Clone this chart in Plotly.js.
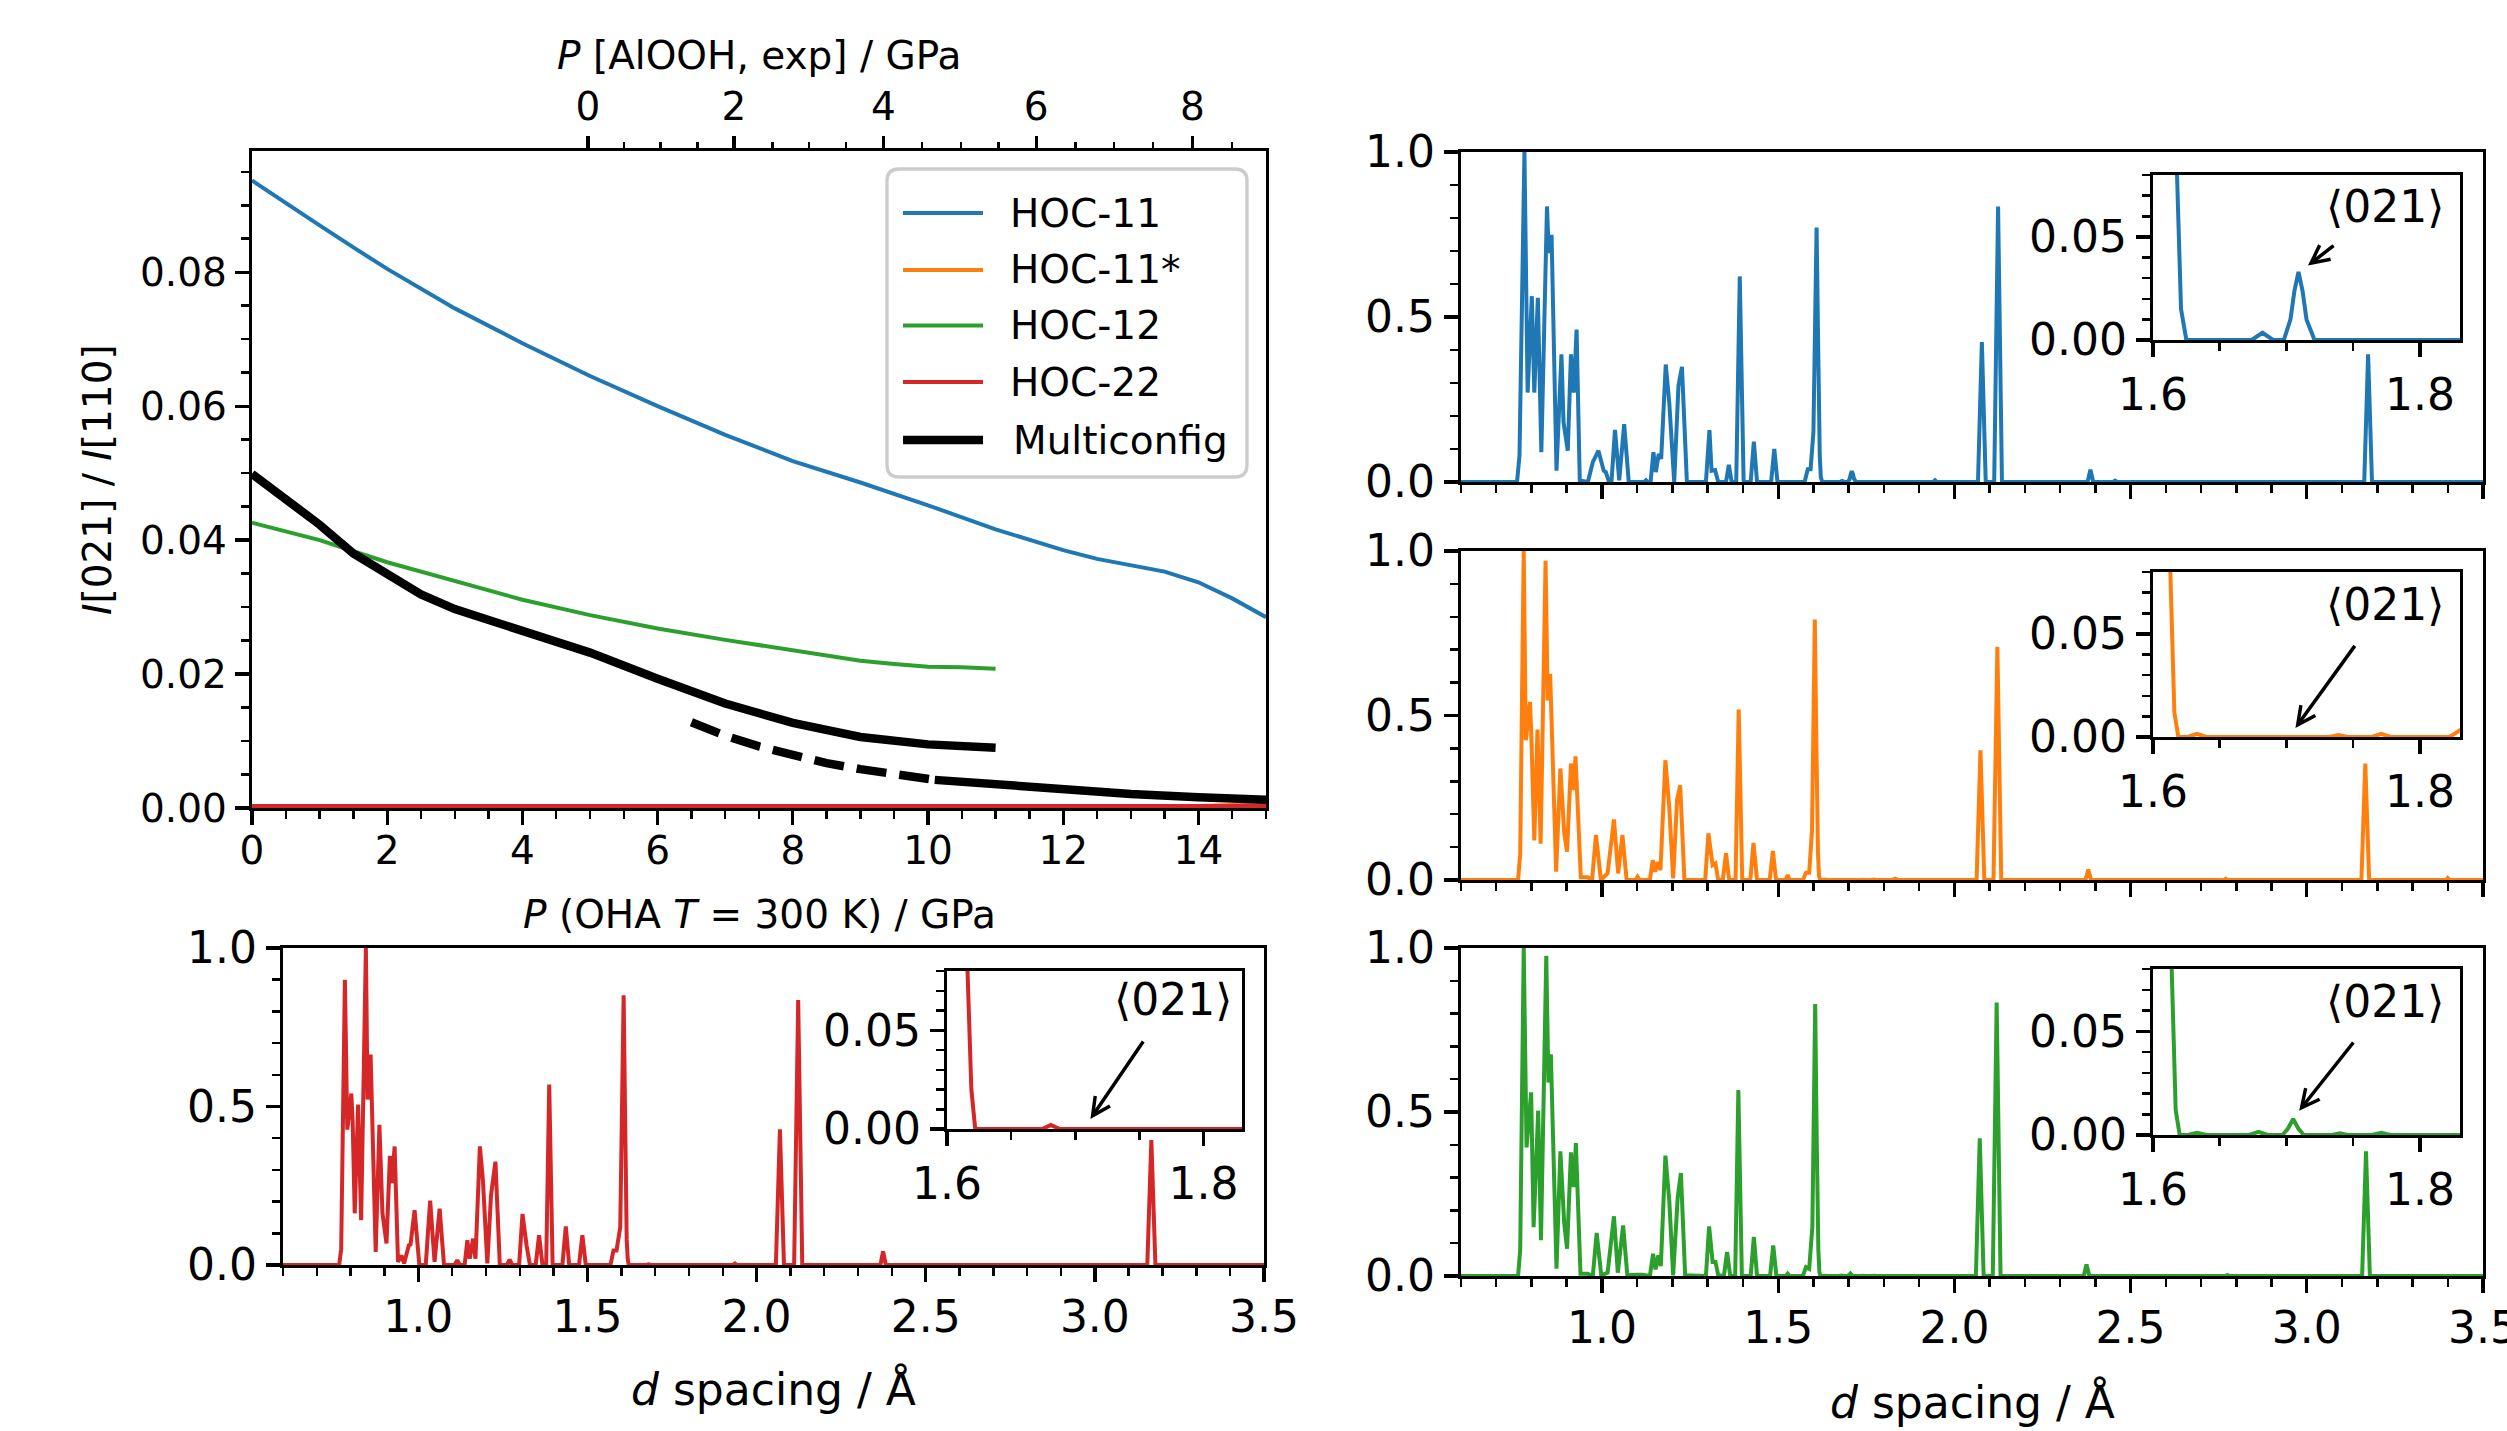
<!DOCTYPE html>
<html>
<head>
<meta charset="utf-8">
<script src="https://cdn.plot.ly/plotly-3.0.1.min.js"></script>
<style>html,body{margin:0;padding:0;background:#fff;}#chart{width:2507px;height:1431px;}</style>
</head>
<body>
<div id="chart"></div>
<script>
// ---------------- DATA ----------------
const seriesNames  = ['HOC-11', 'HOC-11*', 'HOC-12', 'HOC-22', 'Multiconfig'];
const seriesColors = ['#1f77b4', '#ff7f0e', '#2ca02c', '#d62728', '#000000'];

// I[021]/I[110] vs P (OHA, T = 300 K) / GPa
const pHOC11  = [0,0.5,1,1.5,2,3,4,5,6,7,8,9,10,11,11.5,12,12.5,13,13.5,14,14.5,15];
const rHOC11  = [0.0937,0.0903,0.0870,0.0837,0.0805,0.0746,0.0694,0.0645,0.0600,0.0557,0.0518,0.0486,0.0452,0.0416,0.0400,0.0385,0.0372,0.0362,0.0353,0.0337,0.0313,0.0285];
const pHOC11s = [0,3,6,9,12,14,15];
const rHOC11s = [0.0002,0.0002,0.0002,0.0002,0.0002,0.0003,0.0006];
const pHOC12  = [0,1,2,3,4,5,6,7,8,9,9.5,10,10.5,11];
const rHOC12  = [0.0426,0.0400,0.0367,0.0339,0.0311,0.0288,0.0268,0.0251,0.0235,0.0220,0.0215,0.0211,0.0210,0.0208];
const pHOC22  = [0,5,10,15];
const rHOC22  = [0.0003,0.0003,0.0003,0.0003];
const pMulti  = [0,0.5,1,1.5,2,2.5,3,4,5,6,7,8,9,10,10.5,11];
const rMulti  = [0.0499,0.0461,0.0423,0.0380,0.0348,0.0319,0.0297,0.0265,0.0232,0.0193,0.0156,0.0127,0.0106,0.0095,0.0093,0.0090];
const pMultiDash = [6.5,7,7.5,8,8.5,9,9.5,10.1];
const rMultiDash = [0.0128,0.0108,0.0092,0.0078,0.0067,0.0058,0.0050,0.0042];
const pMultiTail = [10.1,11,12,13,14,15];
const rMultiTail = [0.0042,0.0035,0.00275,0.0021,0.0016,0.00125];

// secondary (top) pressure scale: P[AlOOH, exp] labels and where they fall on the OHA scale
const alOOHTicks    = ['0','2','4','6','8'];
const alOOHTickPos  = [4.97, 7.13, 9.34, 11.60, 13.91];
const alOOHMinorPos = [5.50, 6.04, 6.59, 7.70, 8.24, 8.79, 9.91, 10.49, 11.04, 12.18, 12.75, 13.33, 14.50];

// diffraction patterns: [d spacing / Å, normalised intensity]
const specHOC22 = [[0.60,0],[0.766,0],[0.772,0.05],[0.783,0.90],[0.790,0.427],[0.802,0.541],[0.806,0.45],[0.812,0.163],[0.822,0.506],[0.831,0.141],[0.845,1.0],[0.850,0.522],[0.859,0.664],[0.874,0.041],[0.885,0.442],[0.894,0.163],[0.906,0.068],[0.916,0.344],[0.922,0.258],[0.930,0.374],[0.940,0.01],[0.950,0.03],[0.958,0.005],[0.972,0.062],[0.977,0.065],[0.989,0.173],[1.003,0],[1.022,0],[1.035,0.203],[1.048,0.01],[1.063,0.178],[1.076,0],[1.107,0],[1.115,0.015],[1.123,0],[1.137,0],[1.145,0.078],[1.152,0.02],[1.162,0.083],[1.169,0.02],[1.182,0.374],[1.191,0.268],[1.204,0.005],[1.215,0.221],[1.228,0.326],[1.241,0],[1.262,0],[1.270,0.017],[1.278,0],[1.298,0],[1.308,0.161],[1.320,0.062],[1.330,0],[1.347,0],[1.357,0.094],[1.367,0],[1.378,0],[1.387,0.569],[1.397,0],[1.426,0],[1.436,0.122],[1.446,0],[1.475,0],[1.485,0.094],[1.495,0],[1.568,0],[1.577,0.046],[1.586,0.046],[1.597,0.12],[1.607,0.851],[1.611,0.5],[1.616,0.08],[1.619,0.02],[1.622,0],[1.674,0],[1.681,0.002],[1.688,0],[1.930,0],[1.936,0.005],[1.942,0],[2.057,0],[2.069,0.428],[2.081,0],[2.111,0],[2.123,0.836],[2.135,0],[2.366,0],[2.374,0.043],[2.382,0],[3.155,0],[3.167,0.394],[3.179,0],[3.50,0]];

const specHOC11 = [[0.60,0],[0.759,0],[0.766,0.08],[0.780,1.0],[0.789,0.271],[0.801,0.563],[0.808,0.271],[0.818,0.558],[0.828,0.09],[0.844,0.835],[0.849,0.694],[0.857,0.749],[0.871,0.034],[0.885,0.387],[0.891,0.18],[0.903,0.095],[0.912,0.387],[0.920,0.271],[0.928,0.462],[0.937,0.005],[0.960,0],[0.974,0.06],[0.990,0.095],[1.005,0.034],[1.011,0.03],[1.020,0],[1.027,0],[1.037,0.158],[1.049,0.005],[1.063,0.175],[1.076,0],[1.120,0],[1.125,0.005],[1.130,0],[1.138,0],[1.146,0.09],[1.153,0.03],[1.161,0.085],[1.168,0.07],[1.181,0.356],[1.191,0.24],[1.205,0],[1.217,0.291],[1.227,0.349],[1.241,0],[1.295,0],[1.305,0.157],[1.311,0.034],[1.321,0.036],[1.330,0],[1.352,0],[1.360,0.052],[1.368,0],[1.381,0],[1.391,0.623],[1.402,0],[1.422,0],[1.431,0.122],[1.440,0],[1.480,0],[1.489,0.10],[1.498,0],[1.575,0],[1.584,0.039],[1.592,0.039],[1.600,0.15],[1.609,0.771],[1.613,0.45],[1.618,0.08],[1.621,0.015],[1.625,0],[1.674,0],[1.682,0.0035],[1.690,0],[1.698,0],[1.703,0.01],[1.706,0.024],[1.709,0.033],[1.712,0.024],[1.715,0.01],[1.721,0],[1.940,0],[1.945,0.005],[1.950,0],[2.067,0],[2.078,0.424],[2.089,0],[2.113,0],[2.124,0.835],[2.135,0],[2.378,0],[2.386,0.037],[2.394,0],[2.450,0],[2.456,0.004],[2.462,0],[3.163,0],[3.174,0.387],[3.185,0],[3.50,0]];

const specHOC11s = [[0.60,0],[0.762,0],[0.768,0.08],[0.778,1.0],[0.784,0.425],[0.796,0.541],[0.800,0.425],[0.808,0.12],[0.817,0.457],[0.826,0.11],[0.840,0.97],[0.846,0.546],[0.853,0.627],[0.870,0.025],[0.882,0.339],[0.893,0.142],[0.901,0.086],[0.912,0.354],[0.919,0.273],[0.925,0.376],[0.940,0.008],[0.960,0.008],[0.972,0],[0.983,0.137],[0.997,0],[1.016,0.02],[1.034,0.184],[1.046,0.02],[1.058,0.137],[1.070,0],[1.095,0],[1.101,0.01],[1.107,0],[1.136,0],[1.144,0.06],[1.151,0.025],[1.158,0.055],[1.166,0.03],[1.180,0.364],[1.191,0.22],[1.202,0.005],[1.213,0.243],[1.222,0.288],[1.234,0],[1.293,0],[1.302,0.142],[1.314,0.045],[1.322,0.05],[1.330,0],[1.343,0],[1.352,0.081],[1.361,0],[1.379,0],[1.388,0.518],[1.398,0],[1.421,0],[1.430,0.113],[1.440,0],[1.476,0],[1.485,0.088],[1.494,0],[1.521,0],[1.527,0.015],[1.533,0],[1.570,0],[1.579,0.022],[1.588,0.022],[1.596,0.15],[1.604,0.792],[1.608,0.45],[1.613,0.08],[1.616,0.012],[1.619,0],[1.626,0],[1.633,0.0015],[1.640,0],[1.732,0],[1.739,0.001],[1.746,0],[1.764,0],[1.771,0.0015],[1.778,0],[1.822,0],[1.832,0.004],[1.842,0],[2.063,0],[2.074,0.394],[2.085,0],[2.111,0],[2.122,0.709],[2.133,0],[2.372,0],[2.380,0.032],[2.388,0],[2.765,0],[2.770,0.004],[2.775,0],[3.155,0],[3.166,0.354],[3.177,0],[3.395,0],[3.400,0.006],[3.405,0],[3.50,0]];

const specHOC12 = [[0.60,0],[0.762,0],[0.768,0.08],[0.778,1.0],[0.786,0.392],[0.799,0.56],[0.806,0.149],[0.819,0.504],[0.827,0.109],[0.842,0.976],[0.848,0.59],[0.855,0.676],[0.871,0.022],[0.882,0.38],[0.893,0.159],[0.901,0.083],[0.912,0.377],[0.920,0.271],[0.926,0.405],[0.939,0.007],[0.960,0.007],[0.974,0],[0.985,0.131],[0.998,0.002],[1.016,0.01],[1.034,0.182],[1.045,0.01],[1.060,0.154],[1.072,0.002],[1.100,0.004],[1.115,0.004],[1.136,0],[1.145,0.068],[1.152,0.02],[1.160,0.063],[1.167,0.03],[1.180,0.367],[1.191,0.23],[1.202,0.002],[1.215,0.24],[1.224,0.314],[1.236,0.002],[1.295,0],[1.304,0.151],[1.314,0.043],[1.322,0.043],[1.330,0.002],[1.346,0],[1.355,0.073],[1.364,0],[1.378,0],[1.387,0.567],[1.397,0],[1.422,0],[1.431,0.119],[1.440,0],[1.477,0],[1.486,0.093],[1.495,0],[1.522,0],[1.527,0.007],[1.533,0],[1.570,0],[1.579,0.027],[1.588,0.022],[1.597,0.15],[1.605,0.829],[1.609,0.45],[1.614,0.08],[1.617,0.012],[1.620,0],[1.626,0],[1.633,0.001],[1.640,0],[1.672,0],[1.679,0.0015],[1.686,0],[1.697,0],[1.701,0.003],[1.705,0.0077],[1.709,0.003],[1.713,0],[1.734,0],[1.740,0.0008],[1.746,0],[1.764,0],[1.771,0.001],[1.778,0],[2.061,0],[2.072,0.42],[2.083,0],[2.109,0],[2.120,0.834],[2.131,0],[2.367,0],[2.375,0.035],[2.383,0],[2.770,0],[2.775,0.003],[2.780,0],[3.157,0],[3.168,0.38],[3.179,0],[3.50,0]];

// <021> annotation in each inset: [textX, textY, tailX, tailY, tipX, tipY] (inset data units)
const note021HOC22  = [1.776, 0.0656, 1.7538, 0.0451, 1.7118, 0.0051];
const note021HOC11  = [1.774, 0.0645, 1.7364, 0.0463, 1.7161, 0.0361];
const note021HOC11s = [1.774, 0.0640, 1.7520, 0.0449, 1.7067, 0.0044];
const note021HOC12  = [1.774, 0.0642, 1.7510, 0.0453, 1.7095, 0.0117];

// ---------------- LAYOUT HELPERS ----------------
const W = 2507, H = 1431;
const FONT = 'DejaVu Sans, sans-serif';
const X = px => px / W;
const Y = py => 1 - py / H;
const domX = (a, b) => [X(a), X(b)];
const domY = (top, bottom) => [Y(bottom), Y(top)];

function minorTicks(dtick) {
  return {ticks: 'outside', ticklen: 8, tickwidth: 2.5, tickcolor: 'black', tick0: 0, dtick: dtick, showgrid: false};
}
function axis(extra, fontSize) {
  return Object.assign({
    showline: true, linecolor: 'black', linewidth: 3.3, mirror: true,
    ticks: 'outside', ticklen: 14, tickwidth: 3.3, tickcolor: 'black',
    showgrid: false, zeroline: false, automargin: false, fixedrange: true,
    ticklabeloverflow: 'allow',
    tickfont: {family: FONT, size: fontSize, color: 'black'}
  }, extra);
}

const traces = [];
const layout = {
  width: W, height: H,
  margin: {l: 0, r: 0, t: 0, b: 0},
  paper_bgcolor: 'white', plot_bgcolor: 'white',
  showlegend: false,
  font: {family: FONT, color: 'black'},
  shapes: [], annotations: []
};

// ---------------- TOP-LEFT: intensity ratio vs pressure ----------------
const boxA = {x0: 252, x1: 1266, y0: 151, y1: 808};
layout.xaxis = axis({domain: domX(boxA.x0, boxA.x1), anchor: 'y', range: [0, 15],
  tickmode: 'linear', tick0: 0, dtick: 2, ticklabelstandoff: -8, minor: minorTicks(0.5)}, 39);
layout.yaxis = axis({domain: domY(boxA.y0, boxA.y1), anchor: 'x', range: [0, 0.0981],
  tickmode: 'linear', tick0: 0, dtick: 0.02, tickformat: '.2f', minor: minorTicks(0.005)}, 39);
layout.xaxis10 = axis({overlaying: 'x', side: 'top', anchor: 'y', range: [0, 15], showline: false,
  tickmode: 'array', tickvals: alOOHTickPos, ticktext: alOOHTicks,
  minor: {ticks: 'outside', ticklen: 8, tickwidth: 2.5, tickcolor: 'black', tickmode: 'array', tickvals: alOOHMinorPos, showgrid: false}}, 39);

function ratioTrace(x, y, color, width, dash) {
  return {x: x, y: y, type: 'scatter', mode: 'lines', xaxis: 'x', yaxis: 'y', showlegend: false,
    hoverinfo: 'skip', line: {color: color, width: width, dash: dash || 'solid'}};
}
traces.push(ratioTrace(pHOC11,  rHOC11,  seriesColors[0], 4));
traces.push(ratioTrace(pHOC11s, rHOC11s, seriesColors[1], 4));
traces.push(ratioTrace(pHOC12,  rHOC12,  seriesColors[2], 4));
traces.push(ratioTrace(pHOC22,  rHOC22,  seriesColors[3], 4));
traces.push(ratioTrace(pMulti,  rMulti,  seriesColors[4], 8.5));
traces.push(ratioTrace(pMultiDash, rMultiDash, seriesColors[4], 8.5, '30px,13px'));
traces.push(ratioTrace(pMultiTail, rMultiTail, seriesColors[4], 8.5));
// registers the top pressure axis (no visible marks)
traces.push({x: alOOHTickPos, y: alOOHTickPos.map(() => null), type: 'scatter', mode: 'lines',
  xaxis: 'x10', yaxis: 'y', showlegend: false, hoverinfo: 'skip', line: {width: 0}});

// custom legend (matplotlib style)
function roundRect(x0, y0, x1, y1, r) {
  return `M${X(x0 + r)},${Y(y0)} L${X(x1 - r)},${Y(y0)} Q${X(x1)},${Y(y0)} ${X(x1)},${Y(y0 + r)} ` +
         `L${X(x1)},${Y(y1 - r)} Q${X(x1)},${Y(y1)} ${X(x1 - r)},${Y(y1)} ` +
         `L${X(x0 + r)},${Y(y1)} Q${X(x0)},${Y(y1)} ${X(x0)},${Y(y1 - r)} ` +
         `L${X(x0)},${Y(y0 + r)} Q${X(x0)},${Y(y0)} ${X(x0 + r)},${Y(y0)} Z`;
}
layout.shapes.push({type: 'path', xref: 'paper', yref: 'paper', path: roundRect(887, 169, 1247, 477, 12),
  fillcolor: 'rgba(255,255,255,0.8)', line: {color: '#cccccc', width: 3.3}, layer: 'above'});
const legendRowY = [213, 270, 325.5, 382, 440];
seriesNames.forEach((name, i) => {
  const isBlack = i === 4;
  layout.shapes.push({type: 'line', xref: 'paper', yref: 'paper',
    x0: X(903), x1: X(983), y0: Y(legendRowY[i]), y1: Y(legendRowY[i]),
    line: {color: seriesColors[i], width: isBlack ? 8.5 : 4.2}, layer: 'above'});
  layout.annotations.push({xref: 'paper', yref: 'paper', x: X(isBlack ? 1011 : 1008), y: Y(legendRowY[i]),
    xanchor: 'left', yanchor: 'middle', showarrow: false, text: name,
    font: {family: FONT, size: 39, color: 'black'}});
});

// axis titles for top-left plot
layout.annotations.push({xref: 'paper', yref: 'paper', x: X(759), y: Y(55), xanchor: 'center', yanchor: 'middle',
  showarrow: false, text: '<i>P</i> [AlOOH, exp] / GPa', font: {family: FONT, size: 39, color: 'black'}});
layout.annotations.push({xref: 'paper', yref: 'paper', x: X(759), y: Y(914), xanchor: 'center', yanchor: 'middle',
  showarrow: false, text: '<i>P</i> (OHA <i>T</i> = 300 K) / GPa', font: {family: FONT, size: 39, color: 'black'}});
layout.annotations.push({xref: 'paper', yref: 'paper', x: X(97), y: Y(480), xanchor: 'center', yanchor: 'middle',
  textangle: -90, showarrow: false, text: '<i>I</i>[021] / <i>I</i>[110]', font: {family: FONT, size: 39, color: 'black'}});

// ---------------- SPECTRA PANELS ----------------
function addPanel(n, box, inset, spec, color, showXLabels, note) {
  const xm = 'xaxis' + n, ym = 'yaxis' + n, xi = 'xaxis' + (n + 1), yi = 'yaxis' + (n + 1);
  layout[xm] = axis({domain: domX(box.x0, box.x1), anchor: 'y' + n, range: [0.6, 3.5],
    tickmode: 'array', tickvals: [1.0, 1.5, 2.0, 2.5, 3.0, 3.5], ticktext: ['1.0','1.5','2.0','2.5','3.0','3.5'],
    showticklabels: showXLabels, ticklabelstandoff: -3, minor: Object.assign(minorTicks(0.1), {tickmode: 'linear'})}, 44);
  layout[ym] = axis({domain: domY(box.y0, box.y1), anchor: 'x' + n, range: [0, 1.0],
    tickmode: 'array', tickvals: [0, 0.5, 1.0], ticktext: ['0.0','0.5','1.0'],
    minor: Object.assign(minorTicks(0.1), {tickmode: 'linear'})}, 44);
  layout[xi] = axis({domain: domX(inset.x0, inset.x1), anchor: 'y' + (n + 1), range: [1.6, 1.83],
    tickmode: 'array', tickvals: [1.6, 1.8], ticktext: ['1.6','1.8'],
    minor: Object.assign(minorTicks(0.05), {tickmode: 'linear'})}, 44);
  layout[yi] = axis({domain: domY(inset.y0, inset.y1), anchor: 'x' + (n + 1), range: [0, 0.08],
    tickmode: 'array', tickvals: [0, 0.05], ticktext: ['0.00','0.05'],
    minor: Object.assign(minorTicks(0.01), {tickmode: 'linear'})}, 44);
  const xs = spec.map(p => p[0]), ys = spec.map(p => p[1]);
  traces.push({x: xs, y: ys, type: 'scatter', mode: 'lines', xaxis: 'x' + n, yaxis: 'y' + n,
    showlegend: false, hoverinfo: 'skip', line: {color: color, width: 4, simplify: false}});
  traces.push({x: xs, y: ys, type: 'scatter', mode: 'lines', xaxis: 'x' + (n + 1), yaxis: 'y' + (n + 1),
    showlegend: false, hoverinfo: 'skip', line: {color: color, width: 4, simplify: false}});
  const xr = 'x' + (n + 1), yr = 'y' + (n + 1);
  layout.annotations.push({xref: xr, yref: yr, x: note[0], y: note[1], xanchor: 'center', yanchor: 'middle',
    showarrow: false, text: '\u27E8021\u27E9', font: {family: FONT, size: 44, color: 'black'}});
  layout.annotations.push({xref: xr, yref: yr, axref: xr, ayref: yr, x: note[4], y: note[5], ax: note[2], ay: note[3],
    text: '', showarrow: true, arrowhead: 5, arrowsize: 1, arrowwidth: 3.5, arrowcolor: 'black', standoff: 0, startstandoff: 0});
}

addPanel(2, {x0: 283, x1: 1264, y0: 948, y1: 1265}, {x0: 947, x1: 1242, y0: 971, y1: 1129}, specHOC22,  seriesColors[3], true,  note021HOC22);
addPanel(4, {x0: 1461, x1: 2483, y0: 152, y1: 482}, {x0: 2153, x1: 2460, y0: 175, y1: 340}, specHOC11,  seriesColors[0], false, note021HOC11);
addPanel(6, {x0: 1461, x1: 2483, y0: 551, y1: 880}, {x0: 2153, x1: 2460, y0: 572, y1: 737}, specHOC11s, seriesColors[1], false, note021HOC11s);
addPanel(8, {x0: 1461, x1: 2483, y0: 948, y1: 1276}, {x0: 2153, x1: 2460, y0: 969, y1: 1135}, specHOC12, seriesColors[2], true,  note021HOC12);

layout.annotations.push({xref: 'paper', yref: 'paper', x: X(773), y: Y(1389), xanchor: 'center', yanchor: 'middle',
  showarrow: false, text: '<i>d</i> spacing / Å', font: {family: FONT, size: 44, color: 'black'}});
layout.annotations.push({xref: 'paper', yref: 'paper', x: X(1972), y: Y(1402), xanchor: 'center', yanchor: 'middle',
  showarrow: false, text: '<i>d</i> spacing / Å', font: {family: FONT, size: 44, color: 'black'}});

Plotly.newPlot('chart', traces, layout, {staticPlot: true, displayModeBar: false});
</script>
</body>
</html>
